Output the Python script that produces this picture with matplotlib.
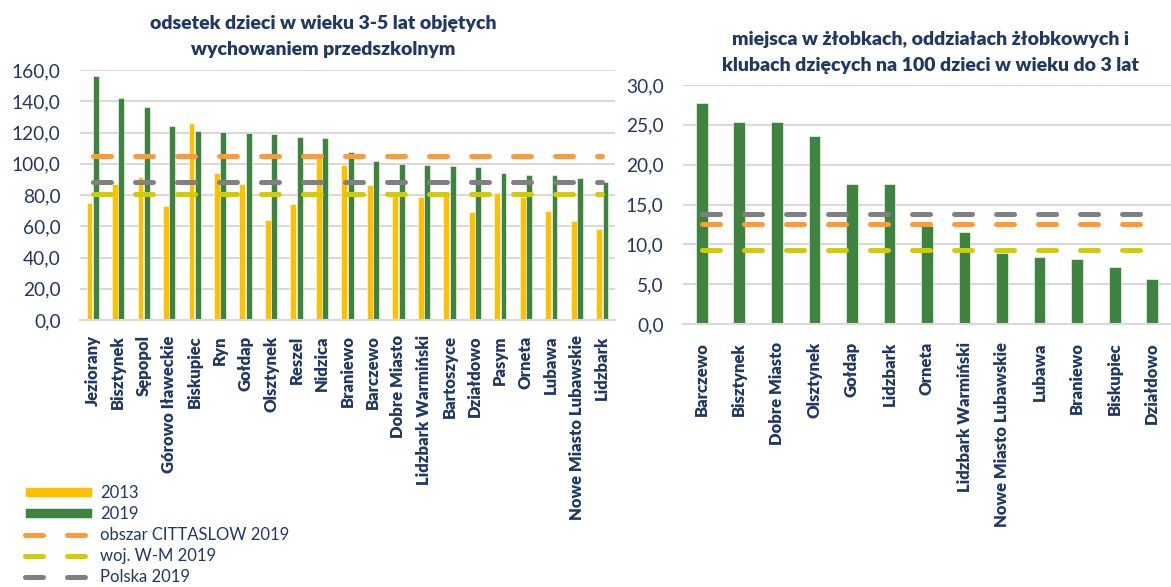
import matplotlib
matplotlib.use("Agg")
import matplotlib.pyplot as plt
import numpy as np
from matplotlib.ticker import FuncFormatter, MultipleLocator

plt.rcParams['font.family'] = ['Lato', 'DejaVu Sans']

# ---- data: left chart ----
left_cats = ["Jeziorany", "Bisztynek", "Sępopol", "Górowo Iławeckie", "Biskupiec", "Ryn",
             "Gołdap", "Olsztynek", "Reszel", "Nidzica", "Braniewo", "Barczewo",
             "Dobre Miasto", "Lidzbark Warmiński", "Bartoszyce", "Działdowo", "Pasym",
             "Orneta", "Lubawa", "Nowe Miasto Lubawskie", "Lidzbark"]
left_2013 = [74.7, 86.8, 91.7, 73.2, 126.3, 93.9, 87.0, 63.8, 74.2, 104.5, 99.4, 86.4,
             80.0, 78.5, 80.0, 69.3, 81.3, 79.0, 69.8, 63.4, 58.0]
left_2019 = [156.2, 142.3, 136.5, 124.2, 121.0, 120.3, 119.7, 118.8, 117.1, 116.5, 107.3,
             101.8, 99.6, 99.0, 98.6, 97.9, 94.1, 92.8, 92.6, 90.9, 88.3]
left_cittaslow = 104.7
left_wm = 80.9
left_polska = 88.3

# ---- data: right chart ----
right_cats = ["Barczewo", "Bisztynek", "Dobre Miasto", "Olsztynek", "Gołdap", "Lidzbark",
              "Orneta", "Lidzbark Warmiński", "Nowe Miasto Lubawskie", "Lubawa", "Braniewo",
              "Biskupiec", "Działdowo"]
right_2019 = [27.8, 25.4, 25.3, 23.6, 17.6, 17.6, 12.3, 11.6, 8.9, 8.4, 8.1, 7.1, 5.6]
right_cittaslow = 12.6
right_wm = 9.3
right_polska = 13.8

# ---- styles ----
C2013 = "#FFC000"
C2019 = "#3E8340"
CORANGE = "#FF9A36"
CYELLOW = "#D2CC00"
CGRAY = "#808080"
NAVY = "#1F3864"
GRID = "#D9D9D9"
DASH = (0, (3.6, 4.8))
LW = 3.6

fig = plt.figure(figsize=(11.71, 5.87), dpi=100)

fmt = FuncFormatter(lambda v, p: f"{v:.1f}".replace(".", ","))


def style_axes(ax, ymax, step, n):
    ax.set_xlim(-0.5, n - 0.5)
    ax.set_ylim(0, ymax)
    ax.yaxis.set_major_locator(MultipleLocator(step))
    ax.yaxis.set_major_formatter(fmt)
    for s in ["top", "right", "left"]:
        ax.spines[s].set_visible(False)
    ax.spines["bottom"].set_color(GRID)
    ax.spines["bottom"].set_linewidth(1.5)
    ax.grid(axis="y", color=GRID, linewidth=1.5)
    ax.set_axisbelow(True)
    ax.tick_params(axis="both", length=0)
    ax.tick_params(axis="y", labelsize=13.8, labelcolor=NAVY, pad=14)
    ax.tick_params(axis="x", labelsize=12, labelcolor=NAVY, pad=11)


# left axes
ax1 = fig.add_axes([80 / 1171, 1 - 320 / 587, 535 / 1171, 250 / 587])
x1 = np.arange(len(left_cats))
w = 0.23
b13 = ax1.bar(x1 - 0.125, left_2013, width=w, color=C2013, edgecolor="white", linewidth=0.4, label="2013")
b19 = ax1.bar(x1 + 0.125, left_2019, width=w, color=C2019, edgecolor="white", linewidth=0.4, label="2019")
l1, = ax1.plot(x1, [left_cittaslow] * len(x1), color=CORANGE, lw=LW, linestyle=DASH,
               dash_capstyle="round", label="obszar CITTASLOW 2019")
l2, = ax1.plot(x1, [left_wm] * len(x1), color=CYELLOW, lw=LW, linestyle=DASH,
               dash_capstyle="round", label="woj. W-M 2019")
l3, = ax1.plot(x1, [left_polska] * len(x1), color=CGRAY, lw=LW, linestyle=DASH,
               dash_capstyle="round", label="Polska 2019")
style_axes(ax1, 160, 20, len(left_cats))
ax1.set_xticks(x1)
ax1.set_xticklabels(left_cats, rotation=90, fontweight="heavy", va="top", ha="center")

# right axes
ax2 = fig.add_axes([683 / 1171, 1 - 324 / 587, 488 / 1171, 239 / 587])
x2 = np.arange(len(right_cats))
ax2.bar(x2, right_2019, width=0.31, color=C2019, edgecolor="white", linewidth=0.4)
ax2.plot(x2, [right_polska] * len(x2), color=CGRAY, lw=LW, linestyle=DASH, dash_capstyle="round")
ax2.plot(x2, [right_cittaslow] * len(x2), color=CORANGE, lw=LW, linestyle=DASH, dash_capstyle="round")
ax2.plot(x2, [right_wm] * len(x2), color=CYELLOW, lw=LW, linestyle=DASH, dash_capstyle="round")
style_axes(ax2, 30, 5, len(right_cats))
ax2.set_xticks(x2)
ax2.set_xticklabels(right_cats, rotation=90, fontweight="heavy", va="top", ha="center")
ax2.tick_params(axis="x", pad=13)

# titles
TS = 14
fig.text(323 / 1171, 1 - 23 / 587, "odsetek dzieci w wieku 3-5 lat objętych",
         ha="center", va="center", fontsize=TS, fontweight="heavy", color=NAVY)
fig.text(323 / 1171, 1 - 50 / 587, "wychowaniem przedszkolnym",
         ha="center", va="center", fontsize=TS, fontweight="heavy", color=NAVY)
fig.text(930 / 1171, 1 - 40 / 587, "miejsca w żłobkach, oddziałach żłobkowych i",
         ha="center", va="center", fontsize=TS, fontweight="heavy", color=NAVY)
fig.text(930 / 1171, 1 - 65 / 587, "klubach dzięcych na 100 dzieci w wieku do 3 lat",
         ha="center", va="center", fontsize=TS, fontweight="heavy", color=NAVY)

# legend
leg = fig.legend(handles=[b13, b19, l1, l2, l3], loc="upper left",
                 bbox_to_anchor=(25 / 1171, 1 - 485 / 587), frameon=False,
                 fontsize=12, handlelength=4.0, handleheight=0.55, labelspacing=0.3,
                 handletextpad=0.5, borderaxespad=0, borderpad=0)
for t in leg.get_texts():
    t.set_color(NAVY)

fig.savefig("out.png", dpi=100)
